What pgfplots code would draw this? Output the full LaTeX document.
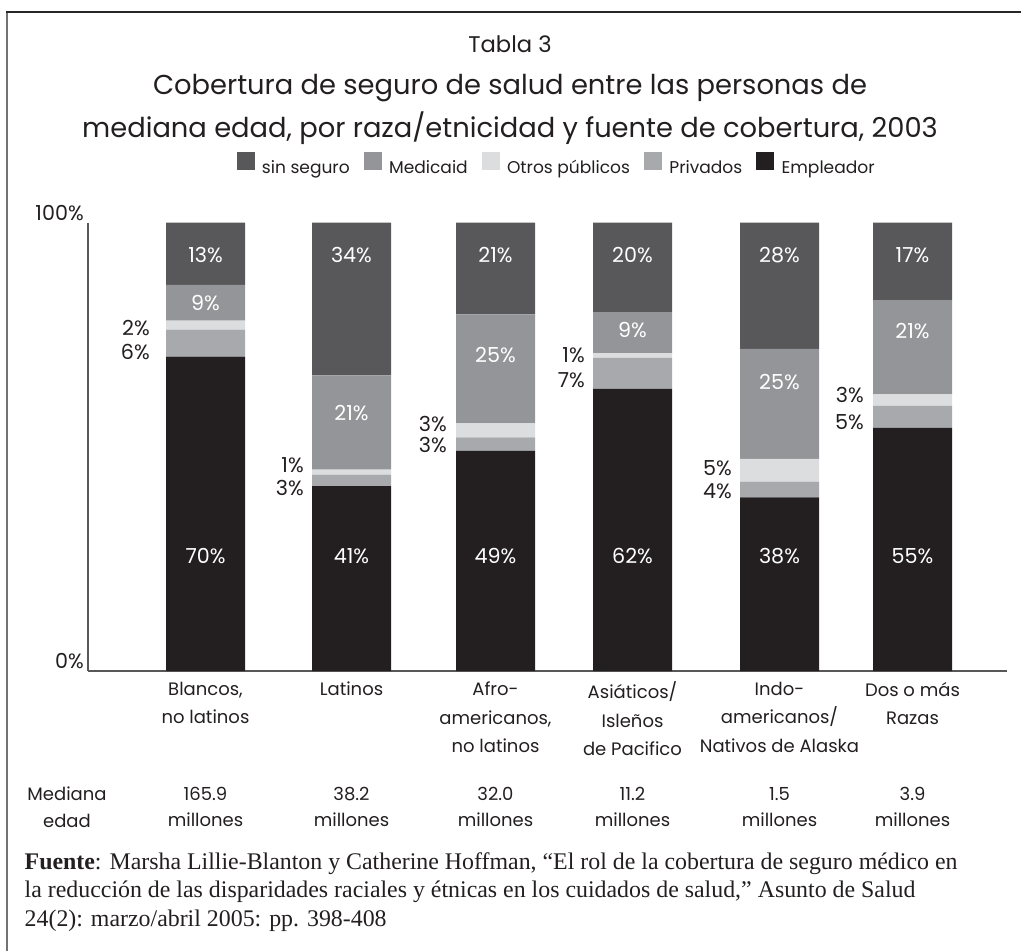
\documentclass[border=0pt]{standalone}
\usepackage{pgfplots}
\pgfplotsset{compat=1.18}
\usepackage{pgfplotstable}
\usepackage{fontspec}
\setmainfont{Poppins}
\newfontfamily\srcfont{Liberation Serif}
\definecolor{sinc}{HTML}{58585A}
\definecolor{medc}{HTML}{939598}
\definecolor{otrc}{HTML}{DCDDDE}
\definecolor{privc}{HTML}{A7A9AC}
\definecolor{empc}{HTML}{231F20}
\definecolor{txt}{HTML}{231F20}
\definecolor{axc}{HTML}{58585A}
\newcommand\lblfont{\fontsize{15.5}{18}\selectfont}
\newcommand\catfont{\fontsize{13.5}{21.4}\selectfont}
\newcommand\wl[3]{\node[anchor=center,inner sep=0pt,text=white,font=\lblfont] at (axis cs:#1,#2) {#3\%};}
\newcommand\dl[3]{\node[anchor=east,inner sep=0pt,text=txt,font=\lblfont] at (axis cs:#1,#2) {#3\%};}
\pgfplotsset{sqleg/.style={legend image code/.code={\fill[##1] (0pt,-1.5pt) rectangle (13.5pt,12pt);}}}
\pgfplotstableread{
x emp priv otros med sin
205.5 70.1 6.0 2.0 8.0 13.9
351.5 41.2 2.6 1.1 21.0 34.1
495.5 49.1 3.0 3.1 24.3 20.5
632.5 62.9 6.9 1.1 9.1 20.0
779.5 38.7 3.5 5.1 24.5 28.2
912.5 54.2 4.9 2.6 21.0 17.3
}\bars
\begin{document}
\color{txt}
\begin{tikzpicture}
\begin{axis}[
  at={(0pt,0pt)}, anchor=south west,
  x=0.75pt, y=3.36375pt,
  xmin=88, xmax=1007, ymin=0, ymax=100,
  ybar stacked, bar width=79,
  axis lines*=left,
  axis line style={draw=axc, line width=1.1pt},
  major tick length=0pt,
  xtick={205.5,351.5,495.5,632.5,779.5,912.5},
  xticklabels={{Blancos,\\no latinos},{Latinos},{Afro-\\americanos,\\no latinos},{Asiáticos/\\Isleños\\de Pacifico},{Indo-\\americanos/\\Nativos de Alaska},{Dos o más\\Razas}},
  xticklabel style={anchor=north, align=center, inner sep=0pt, yshift=-8pt, font=\catfont, text=txt},
  ytick={0,100},
  yticklabels={0\%,\raisebox{-1.1pt}{100\%}\hspace{-6.75pt}},
  yticklabel style={anchor=base east, inner sep=0pt, font=\lblfont, text=txt, xshift=-3pt, yshift=2.25pt},
  clip=false,
  reverse legend,
  legend columns=-1,
  legend style={at={(0.5103,1.128)}, anchor=center, draw=none, fill=none,
    font=\fontsize{12.8}{15}\selectfont, text=txt,
    /tikz/every odd column/.append style={column sep=3.5pt},
    /tikz/every even column/.append style={column sep=8.5pt}},
]
\addplot[fill=empc, draw=none, sqleg] table[x=x,y=emp]{\bars};
\addlegendentry{Empleador}
\addplot[fill=privc, draw=none, sqleg] table[x=x,y=priv]{\bars};
\addlegendentry{Privados}
\addplot[fill=otrc, draw=none, sqleg] table[x=x,y=otros]{\bars};
\addlegendentry{Otros públicos}
\addplot[fill=medc, draw=none, sqleg] table[x=x,y=med]{\bars};
\addlegendentry{Medicaid}
\addplot[fill=sinc, draw=none, sqleg] table[x=x,y=sin]{\bars};
\addlegendentry{sin seguro}
\end{axis}
\begin{axis}[
  at={(0pt,0pt)}, anchor=south west,
  x=0.75pt, y=3.36375pt,
  xmin=88, xmax=1007, ymin=0, ymax=100,
  hide axis, clip=false,
]
% labels inside bars
\wl{205.5}{92.8}{13}\wl{351.5}{92.8}{34}\wl{495.5}{92.8}{21}
\wl{632.5}{92.8}{20}\wl{779.5}{92.8}{28}\wl{912.5}{92.8}{17}
\wl{205.5}{82.1}{9}\wl{351.5}{57.5}{21}\wl{495.5}{70.5}{25}
\wl{632.5}{76.0}{9}\wl{779.5}{64.5}{25}\wl{912.5}{75.7}{21}
\wl{205.5}{25.6}{70}\wl{351.5}{25.6}{41}\wl{495.5}{25.6}{49}
\wl{632.5}{25.6}{62}\wl{779.5}{25.6}{38}\wl{912.5}{25.6}{55}
% labels beside bars
\dl{150}{76.5}{2}\dl{150}{71.2}{6}
\dl{304}{45.9}{1}\dl{304}{40.8}{3}
\dl{447}{55.0}{3}\dl{447}{50.4}{3}
\dl{585}{70.5}{1}\dl{585}{64.9}{7}
\dl{732}{45.3}{5}\dl{732}{40.1}{4}
\dl{864}{61.5}{3}\dl{864}{55.5}{5}
\end{axis}
\begin{scope}[x=0.75pt, y=-0.75pt, shift={(-66pt,503.25pt)}]
  \draw[line width=1.5pt, color=black!55] (7,951) -- (7,12);
  \draw[line width=1.5pt, color=black!85] (6.25,12) -- (1021,12);
  \node[anchor=base, font=\fontsize{17}{20}\selectfont] at (510,53) {Tabla 3};
  \node[anchor=base, font=\fontsize{20.5}{24}\selectfont] at (510,95) {Cobertura de seguro de salud entre las personas de};
  \node[anchor=base, font=\fontsize{20.5}{24}\selectfont] at (510,138) {mediana edad, por raza/etnicidad y fuente de cobertura, 2003};
  \node[anchor=base, font=\catfont] at (67,800) {Mediana};
  \node[anchor=base, font=\catfont] at (67,827) {edad};
  \foreach \xx/\vv in {205.5/165.9, 351.5/38.2, 495.5/32.0, 632.5/11.2, 779.5/1.5, 912.5/3.9}{
    \node[anchor=base, font=\catfont] at (\xx,800) {\vv};
    \node[anchor=base, font=\catfont] at (\xx,826) {millones};
  }
  \node[anchor=base west, font=\srcfont\fontsize{17.9}{20}\selectfont] at (20,869) {\textbf{Fuente}: Marsha Lillie-Blanton y Catherine Hoffman, “El rol de la cobertura de seguro médico en};
  \node[anchor=base west, font=\srcfont\fontsize{17.9}{20}\selectfont] at (20,897.5) {la reducción de las disparidades raciales y étnicas en los cuidados de salud,” Asunto de Salud};
  \node[anchor=base west, font=\srcfont\fontsize{17.9}{20}\selectfont] at (20,926) {24(2): marzo/abril 2005: pp. 398-408};
  \pgfresetboundingbox
  \path[use as bounding box] (0,0) rectangle (1021,951);
\end{scope}
\end{tikzpicture}
\end{document}
